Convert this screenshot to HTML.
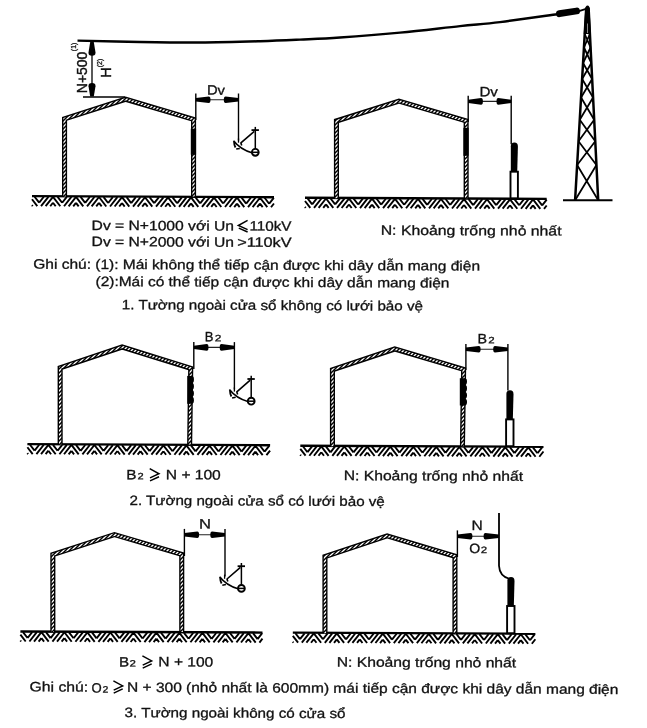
<!DOCTYPE html><html><head><meta charset="utf-8"><style>html,body{margin:0;padding:0;background:#fff;}svg{display:block;filter:blur(0.45px);}text{font-family:"Liberation Sans", sans-serif;fill:#111;stroke:#111;stroke-width:0.3px;}</style></head><body>
<svg width="647" height="728" viewBox="0 0 647 728">
<rect width="647" height="728" fill="#fff"/>
<defs><pattern id="wh" width="4" height="4" patternUnits="userSpaceOnUse"><rect width="4" height="4" fill="#fff"/><path d="M-1 1L1 -1M0 4L4 0M3 5L5 3" stroke="#000" stroke-width="1.45"/></pattern></defs>
<g transform="rotate(0.26 135.0 196.60)">
<rect x="32.0" y="195.40" width="242.0" height="2.4" fill="#000"/>
<path d="M32.00 205.66L32.73 206.60M32.00 199.76L37.33 206.60M34.60 197.20L39.20 203.10M43.80 197.20L39.20 203.10M48.40 197.20L41.07 206.60M53.00 197.20L45.67 206.60M53.00 203.10L50.27 206.60M53.00 203.10L55.73 206.60M53.00 197.20L60.33 206.60M57.60 197.20L62.20 203.10M66.80 197.20L62.20 203.10M71.40 197.20L64.07 206.60M76.00 197.20L68.67 206.60M76.00 203.10L73.27 206.60M76.00 203.10L78.73 206.60M76.00 197.20L83.33 206.60M80.60 197.20L85.20 203.10M89.80 197.20L85.20 203.10M94.40 197.20L87.07 206.60M99.00 197.20L91.67 206.60M99.00 203.10L96.27 206.60M99.00 203.10L101.73 206.60M99.00 197.20L106.33 206.60M103.60 197.20L108.20 203.10M112.80 197.20L108.20 203.10M117.40 197.20L110.07 206.60M122.00 197.20L114.67 206.60M122.00 203.10L119.27 206.60M122.00 203.10L124.73 206.60M122.00 197.20L129.33 206.60M126.60 197.20L131.20 203.10M135.80 197.20L131.20 203.10M140.40 197.20L133.07 206.60M145.00 197.20L137.67 206.60M145.00 203.10L142.27 206.60M145.00 203.10L147.73 206.60M145.00 197.20L152.33 206.60M149.60 197.20L154.20 203.10M158.80 197.20L154.20 203.10M163.40 197.20L156.07 206.60M168.00 197.20L160.67 206.60M168.00 203.10L165.27 206.60M168.00 203.10L170.73 206.60M168.00 197.20L175.33 206.60M172.60 197.20L177.20 203.10M181.80 197.20L177.20 203.10M186.40 197.20L179.07 206.60M191.00 197.20L183.67 206.60M191.00 203.10L188.27 206.60M191.00 203.10L193.73 206.60M191.00 197.20L198.33 206.60M195.60 197.20L200.20 203.10M204.80 197.20L200.20 203.10M209.40 197.20L202.07 206.60M214.00 197.20L206.67 206.60M214.00 203.10L211.27 206.60M214.00 203.10L216.73 206.60M214.00 197.20L221.33 206.60M218.60 197.20L223.20 203.10M227.80 197.20L223.20 203.10M232.40 197.20L225.07 206.60M237.00 197.20L229.67 206.60M237.00 203.10L234.27 206.60M237.00 203.10L239.73 206.60M237.00 197.20L244.33 206.60M241.60 197.20L246.20 203.10M250.80 197.20L246.20 203.10M255.40 197.20L248.07 206.60M260.00 197.20L252.67 206.60M260.00 203.10L257.27 206.60M260.00 203.10L262.73 206.60M260.00 197.20L267.33 206.60M264.60 197.20L269.20 203.10M273.80 197.20L269.20 203.10M274.00 202.84L271.07 206.60" fill="none" stroke="#000" stroke-width="1.9" stroke-linecap="butt"/>
</g>
<g transform="rotate(0.26 415.0 198.30)">
<rect x="305.0" y="197.10" width="241.7" height="2.4" fill="#000"/>
<path d="M305.00 207.36L305.73 208.30M305.00 201.46L310.33 208.30M307.60 198.90L312.20 204.80M316.80 198.90L312.20 204.80M321.40 198.90L314.07 208.30M326.00 198.90L318.67 208.30M326.00 204.80L323.27 208.30M326.00 204.80L328.73 208.30M326.00 198.90L333.33 208.30M330.60 198.90L335.20 204.80M339.80 198.90L335.20 204.80M344.40 198.90L337.07 208.30M349.00 198.90L341.67 208.30M349.00 204.80L346.27 208.30M349.00 204.80L351.73 208.30M349.00 198.90L356.33 208.30M353.60 198.90L358.20 204.80M362.80 198.90L358.20 204.80M367.40 198.90L360.07 208.30M372.00 198.90L364.67 208.30M372.00 204.80L369.27 208.30M372.00 204.80L374.73 208.30M372.00 198.90L379.33 208.30M376.60 198.90L381.20 204.80M385.80 198.90L381.20 204.80M390.40 198.90L383.07 208.30M395.00 198.90L387.67 208.30M395.00 204.80L392.27 208.30M395.00 204.80L397.73 208.30M395.00 198.90L402.33 208.30M399.60 198.90L404.20 204.80M408.80 198.90L404.20 204.80M413.40 198.90L406.07 208.30M418.00 198.90L410.67 208.30M418.00 204.80L415.27 208.30M418.00 204.80L420.73 208.30M418.00 198.90L425.33 208.30M422.60 198.90L427.20 204.80M431.80 198.90L427.20 204.80M436.40 198.90L429.07 208.30M441.00 198.90L433.67 208.30M441.00 204.80L438.27 208.30M441.00 204.80L443.73 208.30M441.00 198.90L448.33 208.30M445.60 198.90L450.20 204.80M454.80 198.90L450.20 204.80M459.40 198.90L452.07 208.30M464.00 198.90L456.67 208.30M464.00 204.80L461.27 208.30M464.00 204.80L466.73 208.30M464.00 198.90L471.33 208.30M468.60 198.90L473.20 204.80M477.80 198.90L473.20 204.80M482.40 198.90L475.07 208.30M487.00 198.90L479.67 208.30M487.00 204.80L484.27 208.30M487.00 204.80L489.73 208.30M487.00 198.90L494.33 208.30M491.60 198.90L496.20 204.80M500.80 198.90L496.20 204.80M505.40 198.90L498.07 208.30M510.00 198.90L502.67 208.30M510.00 204.80L507.27 208.30M510.00 204.80L512.73 208.30M510.00 198.90L517.33 208.30M514.60 198.90L519.20 204.80M523.80 198.90L519.20 204.80M528.40 198.90L521.07 208.30M533.00 198.90L525.67 208.30M533.00 204.80L530.27 208.30M533.00 204.80L535.73 208.30M533.00 198.90L540.33 208.30M537.60 198.90L542.20 204.80M546.70 199.03L542.20 204.80M546.70 204.93L544.07 208.30" fill="none" stroke="#000" stroke-width="1.9" stroke-linecap="butt"/>
</g>
<path d="M64.55 196.60L64.55 118.91L125.53 99.27L193.55 119.40L193.55 196.60" fill="none" stroke="#000" stroke-width="5.1" stroke-linejoin="miter"/>
<path d="M64.55 196.60L64.55 118.91L125.53 99.27L193.55 119.40L193.55 196.60" fill="none" stroke="url(#wh)" stroke-width="2.3" stroke-linejoin="miter"/>
<path d="M336.45 198.30L336.45 120.97L398.93 101.17L466.15 120.81L466.15 198.30" fill="none" stroke="#000" stroke-width="5.1" stroke-linejoin="miter"/>
<path d="M336.45 198.30L336.45 120.97L398.93 101.17L466.15 120.81L466.15 198.30" fill="none" stroke="url(#wh)" stroke-width="2.3" stroke-linejoin="miter"/>
<rect x="190.8" y="128.7" width="5.3" height="26" fill="#000"/>
<rect x="463.4" y="127.8" width="5.2" height="28" fill="#000"/>
<path d="M77.50 40.60C87.92 40.83 119.58 41.68 140.00 42.00C160.42 42.32 180.00 42.63 200.00 42.50C220.00 42.37 243.33 41.68 260.00 41.20C276.67 40.72 286.67 40.22 300.00 39.60C313.33 38.98 323.33 38.67 340.00 37.50C356.67 36.33 380.00 34.50 400.00 32.60C420.00 30.70 443.33 27.85 460.00 26.10C476.67 24.35 483.83 24.08 500.00 22.10C516.17 20.12 547.50 15.52 557.00 14.20" fill="none" stroke="#000" stroke-width="2.4"/>
<path d="M559.4 13.7L576.6 11.0" stroke="#000" stroke-width="6.8" stroke-linecap="round"/>
<path d="M579 11.2L586 8.9" stroke="#000" stroke-width="1.8"/>
<path d="M575.09 200.2L586.26 7.5M598.21 200.2L588.58 7.5" stroke="#000" stroke-width="2.5" fill="none"/>
<path d="M585.24 9.5Q585.44 5.6 587.6 5.6Q589.60 5.6 589.60 9.5L590.90 34L583.73 34Z" fill="#000"/>
<path d="M587.5 23.5L587.5 33" stroke="#999" stroke-width="0.9"/>
<path d="M575.09 200.20L596.45 165.00M598.21 200.20L577.13 165.00M577.13 165.00L595.27 141.30M596.45 165.00L578.50 141.30M578.50 141.30L594.19 119.70M595.27 141.30L579.76 119.70M579.76 119.70L593.08 97.50M594.19 119.70L581.05 97.50M581.05 97.50L592.15 79.00M593.08 97.50L582.12 79.00M582.12 79.00L591.35 63.00M592.15 79.00L583.05 63.00M583.05 63.00L590.58 47.50M591.35 63.00L583.95 47.50M583.95 47.50L589.90 34.00M590.58 47.50L584.73 34.00" stroke="#000" stroke-width="1.75" fill="none"/>
<line x1="563.00" y1="200.20" x2="612.50" y2="200.20" stroke="#000" stroke-width="1.9" />
<line x1="83.00" y1="97.00" x2="125.00" y2="97.00" stroke="#000" stroke-width="1.7" />
<line x1="92.00" y1="44.00" x2="92.00" y2="95.00" stroke="#000" stroke-width="1.3" />
<path d="M90.2 42.0L93.8 42.0L95.5 52.5Q95.7 55.8 92 55.8Q88.3 55.8 88.5 52.5Z" fill="#000"/>
<path d="M90.2 96.4L93.8 96.4L95.5 86.3Q95.7 83.0 92 83.0Q88.3 83.0 88.5 86.3Z" fill="#000"/>
<g transform="translate(86.8,93.2) rotate(-90)"><text x="0" y="0" font-size="14.2" textLength="41.5" lengthAdjust="spacingAndGlyphs" style="stroke-width:0.4px">N+500</text><text x="42.0" y="-11.3" font-size="7.0" style="stroke-width:0.3px">(1)</text></g>
<g transform="translate(110.9,77.8) rotate(-90)"><text x="0" y="0" font-size="14.4" style="stroke-width:0.4px">H</text><text x="10.6" y="-9.2" font-size="7.0" style="stroke-width:0.3px">(2)</text></g>
<line x1="195.80" y1="93.50" x2="195.80" y2="120.00" stroke="#000" stroke-width="1.4" />
<line x1="238.50" y1="93.50" x2="238.50" y2="140.50" stroke="#000" stroke-width="1.4" />
<line x1="195.80" y1="99.80" x2="238.50" y2="99.80" stroke="#222" stroke-width="1.1" />
<path d="M195.80 98.10L208.70 96.50Q210.50 96.50 210.50 99.80Q210.50 103.10 208.70 103.10L195.80 101.50Z" fill="#000"/>
<path d="M238.50 98.10L225.60 96.50Q223.80 96.50 223.80 99.80Q223.80 103.10 225.60 103.10L238.50 101.50Z" fill="#000"/>
<text x="206.91" y="94.60" font-size="13.5" textLength="18.02" lengthAdjust="spacingAndGlyphs" transform="rotate(0.26 208.00 94.60)">Dv</text>
<g transform="translate(238.50,140.50)" fill="none" stroke="#000">
<circle cx="16.8" cy="11.8" r="3.4" stroke-width="1.9"/>
<line x1="14" y1="11.8" x2="19.6" y2="11.8" stroke-width="1.5"/>
<line x1="16.8" y1="8.4" x2="16.8" y2="-13.6" stroke-width="1.5"/>
<line x1="13" y1="-10.4" x2="20.4" y2="-10.4" stroke-width="1.8"/>
<path d="M15.8 -9.2L2.4 2.4L3.2 5.0" stroke-width="1.6" stroke-linejoin="round"/>
<path d="M0 -2L0 2.2" stroke-width="1.3"/>
<path d="M-5.0 0.2Q2.0 9.0 13.4 12.2" stroke-width="1.6"/>
<path d="M-4.4 0.9Q-4.3 5.0 -3.0 7.0" stroke-width="1.9"/>
<path d="M-2.3 8.6L1.3 7.9" stroke-width="1.5"/>
</g>
<line x1="468.20" y1="95.70" x2="468.20" y2="122.00" stroke="#000" stroke-width="1.4" />
<line x1="511.20" y1="95.70" x2="511.20" y2="144.30" stroke="#000" stroke-width="1.4" />
<line x1="468.20" y1="101.40" x2="511.20" y2="101.40" stroke="#222" stroke-width="1.1" />
<path d="M468.20 99.70L481.10 98.10Q482.90 98.10 482.90 101.40Q482.90 104.70 481.10 104.70L468.20 103.10Z" fill="#000"/>
<path d="M511.20 99.70L498.30 98.10Q496.50 98.10 496.50 101.40Q496.50 104.70 498.30 104.70L511.20 103.10Z" fill="#000"/>
<text x="479.48" y="96.20" font-size="13.5" textLength="18.44" lengthAdjust="spacingAndGlyphs" transform="rotate(0.26 480.60 96.20)">Dv</text>
<path d="M510.80 172.70L510.80 146.20Q510.80 142.60 514.40 142.60Q518.00 142.80 517.90 146.60L517.20 172.70Z" fill="#000"/>
<rect x="510.50" y="171.70" width="7.40" height="26.60" fill="#fff" stroke="#000" stroke-width="1.9"/>
<text x="91.64" y="229.90" font-size="13.5" textLength="142.34" lengthAdjust="spacingAndGlyphs" transform="rotate(0.26 92.80 229.90)">Dv = N+1000 với Un</text>
<path d="M247.60 220.40L238.30 225.50L247.60 229.68M238.80 228.06L247.60 232.00" fill="none" stroke="#000" stroke-width="1.45"/>
<text x="249.46" y="230.60" font-size="13.5" textLength="42.00" lengthAdjust="spacingAndGlyphs" transform="rotate(0.26 250.30 230.60)">110kV</text>
<text x="91.64" y="246.10" font-size="13.5" textLength="142.34" lengthAdjust="spacingAndGlyphs" transform="rotate(0.26 92.80 246.10)">Dv = N+2000 với Un</text>
<text x="237.20" y="246.75" font-size="13.5" textLength="54.41" lengthAdjust="spacingAndGlyphs" transform="rotate(0.26 237.80 246.75)">&gt;110kV</text>
<text x="380.73" y="234.80" font-size="13.5" textLength="180.82" lengthAdjust="spacingAndGlyphs" transform="rotate(0.26 381.90 234.80)">N: Khoảng trống nhỏ nhất</text>
<text x="33.33" y="268.60" font-size="13.5" textLength="446.67" lengthAdjust="spacingAndGlyphs" transform="rotate(0.26 33.90 268.60)">Ghi chú: (1): Mái không thể tiếp cận được khi dây dẫn mang điện</text>
<text x="95.54" y="286.00" font-size="13.5" textLength="353.80" lengthAdjust="spacingAndGlyphs" transform="rotate(0.26 96.40 286.00)">(2):Mái có thể tiếp cận được khi dây dẫn mang điện</text>
<text x="121.86" y="309.30" font-size="13.5" textLength="301.09" lengthAdjust="spacingAndGlyphs" transform="rotate(0.26 122.70 309.30)">1. Tường ngoài cửa sổ không có lưới bảo vệ</text>
<g transform="rotate(0.26 135.0 444.60)">
<rect x="27.4" y="443.40" width="242.7" height="2.4" fill="#000"/>
<path d="M27.40 453.66L28.13 454.60M27.40 447.76L32.73 454.60M30.00 445.20L34.60 451.10M39.20 445.20L34.60 451.10M43.80 445.20L36.47 454.60M48.40 445.20L41.07 454.60M48.40 451.10L45.67 454.60M48.40 451.10L51.13 454.60M48.40 445.20L55.73 454.60M53.00 445.20L57.60 451.10M62.20 445.20L57.60 451.10M66.80 445.20L59.47 454.60M71.40 445.20L64.07 454.60M71.40 451.10L68.67 454.60M71.40 451.10L74.13 454.60M71.40 445.20L78.73 454.60M76.00 445.20L80.60 451.10M85.20 445.20L80.60 451.10M89.80 445.20L82.47 454.60M94.40 445.20L87.07 454.60M94.40 451.10L91.67 454.60M94.40 451.10L97.13 454.60M94.40 445.20L101.73 454.60M99.00 445.20L103.60 451.10M108.20 445.20L103.60 451.10M112.80 445.20L105.47 454.60M117.40 445.20L110.07 454.60M117.40 451.10L114.67 454.60M117.40 451.10L120.13 454.60M117.40 445.20L124.73 454.60M122.00 445.20L126.60 451.10M131.20 445.20L126.60 451.10M135.80 445.20L128.47 454.60M140.40 445.20L133.07 454.60M140.40 451.10L137.67 454.60M140.40 451.10L143.13 454.60M140.40 445.20L147.73 454.60M145.00 445.20L149.60 451.10M154.20 445.20L149.60 451.10M158.80 445.20L151.47 454.60M163.40 445.20L156.07 454.60M163.40 451.10L160.67 454.60M163.40 451.10L166.13 454.60M163.40 445.20L170.73 454.60M168.00 445.20L172.60 451.10M177.20 445.20L172.60 451.10M181.80 445.20L174.47 454.60M186.40 445.20L179.07 454.60M186.40 451.10L183.67 454.60M186.40 451.10L189.13 454.60M186.40 445.20L193.73 454.60M191.00 445.20L195.60 451.10M200.20 445.20L195.60 451.10M204.80 445.20L197.47 454.60M209.40 445.20L202.07 454.60M209.40 451.10L206.67 454.60M209.40 451.10L212.13 454.60M209.40 445.20L216.73 454.60M214.00 445.20L218.60 451.10M223.20 445.20L218.60 451.10M227.80 445.20L220.47 454.60M232.40 445.20L225.07 454.60M232.40 451.10L229.67 454.60M232.40 451.10L235.13 454.60M232.40 445.20L239.73 454.60M237.00 445.20L241.60 451.10M246.20 445.20L241.60 451.10M250.80 445.20L243.47 454.60M255.40 445.20L248.07 454.60M255.40 451.10L252.67 454.60M255.40 451.10L258.13 454.60M255.40 445.20L262.73 454.60M260.00 445.20L264.60 451.10M269.20 445.20L264.60 451.10M270.10 449.94L266.47 454.60" fill="none" stroke="#000" stroke-width="1.9" stroke-linecap="butt"/>
</g>
<g transform="rotate(0.26 415.0 446.20)">
<rect x="300.3" y="445.00" width="243.2" height="2.4" fill="#000"/>
<path d="M300.30 455.26L301.03 456.20M300.30 449.36L305.63 456.20M302.90 446.80L307.50 452.70M312.10 446.80L307.50 452.70M316.70 446.80L309.37 456.20M321.30 446.80L313.97 456.20M321.30 452.70L318.57 456.20M321.30 452.70L324.03 456.20M321.30 446.80L328.63 456.20M325.90 446.80L330.50 452.70M335.10 446.80L330.50 452.70M339.70 446.80L332.37 456.20M344.30 446.80L336.97 456.20M344.30 452.70L341.57 456.20M344.30 452.70L347.03 456.20M344.30 446.80L351.63 456.20M348.90 446.80L353.50 452.70M358.10 446.80L353.50 452.70M362.70 446.80L355.37 456.20M367.30 446.80L359.97 456.20M367.30 452.70L364.57 456.20M367.30 452.70L370.03 456.20M367.30 446.80L374.63 456.20M371.90 446.80L376.50 452.70M381.10 446.80L376.50 452.70M385.70 446.80L378.37 456.20M390.30 446.80L382.97 456.20M390.30 452.70L387.57 456.20M390.30 452.70L393.03 456.20M390.30 446.80L397.63 456.20M394.90 446.80L399.50 452.70M404.10 446.80L399.50 452.70M408.70 446.80L401.37 456.20M413.30 446.80L405.97 456.20M413.30 452.70L410.57 456.20M413.30 452.70L416.03 456.20M413.30 446.80L420.63 456.20M417.90 446.80L422.50 452.70M427.10 446.80L422.50 452.70M431.70 446.80L424.37 456.20M436.30 446.80L428.97 456.20M436.30 452.70L433.57 456.20M436.30 452.70L439.03 456.20M436.30 446.80L443.63 456.20M440.90 446.80L445.50 452.70M450.10 446.80L445.50 452.70M454.70 446.80L447.37 456.20M459.30 446.80L451.97 456.20M459.30 452.70L456.57 456.20M459.30 452.70L462.03 456.20M459.30 446.80L466.63 456.20M463.90 446.80L468.50 452.70M473.10 446.80L468.50 452.70M477.70 446.80L470.37 456.20M482.30 446.80L474.97 456.20M482.30 452.70L479.57 456.20M482.30 452.70L485.03 456.20M482.30 446.80L489.63 456.20M486.90 446.80L491.50 452.70M496.10 446.80L491.50 452.70M500.70 446.80L493.37 456.20M505.30 446.80L497.97 456.20M505.30 452.70L502.57 456.20M505.30 452.70L508.03 456.20M505.30 446.80L512.63 456.20M509.90 446.80L514.50 452.70M519.10 446.80L514.50 452.70M523.70 446.80L516.37 456.20M528.30 446.80L520.97 456.20M528.30 452.70L525.57 456.20M528.30 452.70L531.03 456.20M528.30 446.80L535.63 456.20M532.90 446.80L537.50 452.70M542.10 446.80L537.50 452.70M543.50 450.90L539.37 456.20" fill="none" stroke="#000" stroke-width="1.9" stroke-linecap="butt"/>
</g>
<path d="M60.15 444.60L60.15 367.74L122.13 346.98L190.72 368.27L189.65 444.56" fill="none" stroke="#000" stroke-width="5.1" stroke-linejoin="miter"/>
<path d="M60.15 444.60L60.15 367.74L122.13 346.98L190.72 368.27L189.65 444.56" fill="none" stroke="url(#wh)" stroke-width="2.3" stroke-linejoin="miter"/>
<path d="M332.45 446.20L332.45 369.74L394.75 348.97L463.62 369.30L462.45 446.16" fill="none" stroke="#000" stroke-width="5.1" stroke-linejoin="miter"/>
<path d="M332.45 446.20L332.45 369.74L394.75 348.97L463.62 369.30L462.45 446.16" fill="none" stroke="url(#wh)" stroke-width="2.3" stroke-linejoin="miter"/>
<rect x="187.20" y="375.90" width="5.30" height="27.90" fill="#000"/>
<ellipse cx="192.30" cy="379.39" rx="1.6" ry="3.19" fill="#000"/>
<ellipse cx="192.30" cy="386.36" rx="1.6" ry="3.19" fill="#000"/>
<ellipse cx="192.30" cy="393.34" rx="1.6" ry="3.19" fill="#000"/>
<ellipse cx="192.30" cy="400.31" rx="1.6" ry="3.19" fill="#000"/>
<rect x="459.80" y="378.20" width="5.80" height="27.30" fill="#000"/>
<ellipse cx="465.40" cy="381.61" rx="1.6" ry="3.11" fill="#000"/>
<ellipse cx="465.40" cy="388.44" rx="1.6" ry="3.11" fill="#000"/>
<ellipse cx="465.40" cy="395.26" rx="1.6" ry="3.11" fill="#000"/>
<ellipse cx="465.40" cy="402.09" rx="1.6" ry="3.11" fill="#000"/>
<line x1="193.80" y1="342.10" x2="193.80" y2="369.00" stroke="#000" stroke-width="1.4" />
<line x1="234.40" y1="342.10" x2="234.40" y2="389.40" stroke="#000" stroke-width="1.4" />
<line x1="193.80" y1="347.40" x2="234.40" y2="347.40" stroke="#222" stroke-width="1.1" />
<path d="M193.80 345.70L206.70 344.10Q208.50 344.10 208.50 347.40Q208.50 350.70 206.70 350.70L193.80 349.10Z" fill="#000"/>
<path d="M234.40 345.70L221.50 344.10Q219.70 344.10 219.70 347.40Q219.70 350.70 221.50 350.70L234.40 349.10Z" fill="#000"/>
<text x="204.64" y="341.20" font-size="13.5" textLength="8.66" lengthAdjust="spacingAndGlyphs" transform="rotate(0.26 205.60 341.20)">B</text>
<text x="214.88" y="341.20" font-size="9.2" textLength="6.61" lengthAdjust="spacingAndGlyphs" transform="rotate(0.26 215.20 341.20)">2</text>
<g transform="translate(234.40,389.40)" fill="none" stroke="#000">
<circle cx="16.8" cy="11.8" r="3.4" stroke-width="1.9"/>
<line x1="14" y1="11.8" x2="19.6" y2="11.8" stroke-width="1.5"/>
<line x1="16.8" y1="8.4" x2="16.8" y2="-13.6" stroke-width="1.5"/>
<line x1="13" y1="-10.4" x2="20.4" y2="-10.4" stroke-width="1.8"/>
<path d="M15.8 -9.2L2.4 2.4L3.2 5.0" stroke-width="1.6" stroke-linejoin="round"/>
<path d="M0 -2L0 2.2" stroke-width="1.3"/>
<path d="M-5.0 0.2Q2.0 9.0 13.4 12.2" stroke-width="1.6"/>
<path d="M-4.4 0.9Q-4.3 5.0 -3.0 7.0" stroke-width="1.9"/>
<path d="M-2.3 8.6L1.3 7.9" stroke-width="1.5"/>
</g>
<line x1="465.90" y1="344.00" x2="465.90" y2="370.00" stroke="#000" stroke-width="1.4" />
<line x1="507.90" y1="344.00" x2="507.90" y2="390.50" stroke="#000" stroke-width="1.4" />
<line x1="465.90" y1="349.20" x2="507.90" y2="349.20" stroke="#222" stroke-width="1.1" />
<path d="M465.90 347.50L478.80 345.90Q480.60 345.90 480.60 349.20Q480.60 352.50 478.80 352.50L465.90 350.90Z" fill="#000"/>
<path d="M507.90 347.50L495.00 345.90Q493.20 345.90 493.20 349.20Q493.20 352.50 495.00 352.50L507.90 350.90Z" fill="#000"/>
<text x="477.55" y="343.20" font-size="13.5" textLength="9.50" lengthAdjust="spacingAndGlyphs" transform="rotate(0.26 478.60 343.20)">B</text>
<text x="488.19" y="343.20" font-size="9.2" textLength="6.38" lengthAdjust="spacingAndGlyphs" transform="rotate(0.26 488.50 343.20)">2</text>
<path d="M506.40 420.40L506.40 393.80Q506.40 390.20 510.00 390.20Q513.60 390.40 513.50 394.20L512.80 420.40Z" fill="#000"/>
<rect x="506.10" y="419.40" width="7.40" height="26.80" fill="#fff" stroke="#000" stroke-width="1.9"/>
<text x="126.17" y="479.20" font-size="13.5" textLength="10.22" lengthAdjust="spacingAndGlyphs" transform="rotate(0.26 127.30 479.20)">B</text>
<text x="137.50" y="479.20" font-size="9.2" textLength="6.15" lengthAdjust="spacingAndGlyphs" transform="rotate(0.26 137.80 479.20)">2</text>
<path d="M149.70 468.60L159.00 473.77L150.00 477.95M150.00 480.90L159.00 476.72" fill="none" stroke="#000" stroke-width="1.45"/>
<text x="165.85" y="479.20" font-size="13.5" textLength="54.94" lengthAdjust="spacingAndGlyphs" transform="rotate(0.26 167.00 479.20)">N + 100</text>
<text x="343.74" y="480.10" font-size="13.5" textLength="179.31" lengthAdjust="spacingAndGlyphs" transform="rotate(0.26 344.90 480.10)">N: Khoảng trống nhỏ nhất</text>
<text x="129.54" y="504.90" font-size="13.5" textLength="255.25" lengthAdjust="spacingAndGlyphs" transform="rotate(0.26 130.10 504.90)">2. Tường ngoài cửa sổ có lưới bảo vệ</text>
<g transform="rotate(0.26 135.0 632.00)">
<rect x="20.4" y="630.80" width="242.1" height="2.4" fill="#000"/>
<path d="M20.40 641.06L21.13 642.00M20.40 635.16L25.73 642.00M23.00 632.60L27.60 638.50M32.20 632.60L27.60 638.50M36.80 632.60L29.47 642.00M41.40 632.60L34.07 642.00M41.40 638.50L38.67 642.00M41.40 638.50L44.13 642.00M41.40 632.60L48.73 642.00M46.00 632.60L50.60 638.50M55.20 632.60L50.60 638.50M59.80 632.60L52.47 642.00M64.40 632.60L57.07 642.00M64.40 638.50L61.67 642.00M64.40 638.50L67.13 642.00M64.40 632.60L71.73 642.00M69.00 632.60L73.60 638.50M78.20 632.60L73.60 638.50M82.80 632.60L75.47 642.00M87.40 632.60L80.07 642.00M87.40 638.50L84.67 642.00M87.40 638.50L90.13 642.00M87.40 632.60L94.73 642.00M92.00 632.60L96.60 638.50M101.20 632.60L96.60 638.50M105.80 632.60L98.47 642.00M110.40 632.60L103.07 642.00M110.40 638.50L107.67 642.00M110.40 638.50L113.13 642.00M110.40 632.60L117.73 642.00M115.00 632.60L119.60 638.50M124.20 632.60L119.60 638.50M128.80 632.60L121.47 642.00M133.40 632.60L126.07 642.00M133.40 638.50L130.67 642.00M133.40 638.50L136.13 642.00M133.40 632.60L140.73 642.00M138.00 632.60L142.60 638.50M147.20 632.60L142.60 638.50M151.80 632.60L144.47 642.00M156.40 632.60L149.07 642.00M156.40 638.50L153.67 642.00M156.40 638.50L159.13 642.00M156.40 632.60L163.73 642.00M161.00 632.60L165.60 638.50M170.20 632.60L165.60 638.50M174.80 632.60L167.47 642.00M179.40 632.60L172.07 642.00M179.40 638.50L176.67 642.00M179.40 638.50L182.13 642.00M179.40 632.60L186.73 642.00M184.00 632.60L188.60 638.50M193.20 632.60L188.60 638.50M197.80 632.60L190.47 642.00M202.40 632.60L195.07 642.00M202.40 638.50L199.67 642.00M202.40 638.50L205.13 642.00M202.40 632.60L209.73 642.00M207.00 632.60L211.60 638.50M216.20 632.60L211.60 638.50M220.80 632.60L213.47 642.00M225.40 632.60L218.07 642.00M225.40 638.50L222.67 642.00M225.40 638.50L228.13 642.00M225.40 632.60L232.73 642.00M230.00 632.60L234.60 638.50M239.20 632.60L234.60 638.50M243.80 632.60L236.47 642.00M248.40 632.60L241.07 642.00M248.40 638.50L245.67 642.00M248.40 638.50L251.13 642.00M248.40 632.60L255.73 642.00M253.00 632.60L257.60 638.50M262.20 632.60L257.60 638.50M262.50 638.11L259.47 642.00" fill="none" stroke="#000" stroke-width="1.9" stroke-linecap="butt"/>
</g>
<g transform="rotate(0.26 415.0 633.20)">
<rect x="292.8" y="632.00" width="242.6" height="2.4" fill="#000"/>
<path d="M292.80 642.26L293.53 643.20M292.80 636.36L298.13 643.20M295.40 633.80L300.00 639.70M304.60 633.80L300.00 639.70M309.20 633.80L301.87 643.20M313.80 633.80L306.47 643.20M313.80 639.70L311.07 643.20M313.80 639.70L316.53 643.20M313.80 633.80L321.13 643.20M318.40 633.80L323.00 639.70M327.60 633.80L323.00 639.70M332.20 633.80L324.87 643.20M336.80 633.80L329.47 643.20M336.80 639.70L334.07 643.20M336.80 639.70L339.53 643.20M336.80 633.80L344.13 643.20M341.40 633.80L346.00 639.70M350.60 633.80L346.00 639.70M355.20 633.80L347.87 643.20M359.80 633.80L352.47 643.20M359.80 639.70L357.07 643.20M359.80 639.70L362.53 643.20M359.80 633.80L367.13 643.20M364.40 633.80L369.00 639.70M373.60 633.80L369.00 639.70M378.20 633.80L370.87 643.20M382.80 633.80L375.47 643.20M382.80 639.70L380.07 643.20M382.80 639.70L385.53 643.20M382.80 633.80L390.13 643.20M387.40 633.80L392.00 639.70M396.60 633.80L392.00 639.70M401.20 633.80L393.87 643.20M405.80 633.80L398.47 643.20M405.80 639.70L403.07 643.20M405.80 639.70L408.53 643.20M405.80 633.80L413.13 643.20M410.40 633.80L415.00 639.70M419.60 633.80L415.00 639.70M424.20 633.80L416.87 643.20M428.80 633.80L421.47 643.20M428.80 639.70L426.07 643.20M428.80 639.70L431.53 643.20M428.80 633.80L436.13 643.20M433.40 633.80L438.00 639.70M442.60 633.80L438.00 639.70M447.20 633.80L439.87 643.20M451.80 633.80L444.47 643.20M451.80 639.70L449.07 643.20M451.80 639.70L454.53 643.20M451.80 633.80L459.13 643.20M456.40 633.80L461.00 639.70M465.60 633.80L461.00 639.70M470.20 633.80L462.87 643.20M474.80 633.80L467.47 643.20M474.80 639.70L472.07 643.20M474.80 639.70L477.53 643.20M474.80 633.80L482.13 643.20M479.40 633.80L484.00 639.70M488.60 633.80L484.00 639.70M493.20 633.80L485.87 643.20M497.80 633.80L490.47 643.20M497.80 639.70L495.07 643.20M497.80 639.70L500.53 643.20M497.80 633.80L505.13 643.20M502.40 633.80L507.00 639.70M511.60 633.80L507.00 639.70M516.20 633.80L508.87 643.20M520.80 633.80L513.47 643.20M520.80 639.70L518.07 643.20M520.80 639.70L523.53 643.20M520.80 633.80L528.13 643.20M525.40 633.80L530.00 639.70M534.60 633.80L530.00 639.70M535.40 638.67L531.87 643.20" fill="none" stroke="#000" stroke-width="1.9" stroke-linecap="butt"/>
</g>
<path d="M52.85 632.00L52.85 554.55L114.44 534.57L181.75 554.31L181.75 632.00" fill="none" stroke="#000" stroke-width="5.1" stroke-linejoin="miter"/>
<path d="M52.85 632.00L52.85 554.55L114.44 534.57L181.75 554.31L181.75 632.00" fill="none" stroke="url(#wh)" stroke-width="2.3" stroke-linejoin="miter"/>
<path d="M324.95 633.20L324.95 556.54L387.14 535.87L454.95 556.20L454.95 633.20" fill="none" stroke="#000" stroke-width="5.1" stroke-linejoin="miter"/>
<path d="M324.95 633.20L324.95 556.54L387.14 535.87L454.95 556.20L454.95 633.20" fill="none" stroke="url(#wh)" stroke-width="2.3" stroke-linejoin="miter"/>
<line x1="184.40" y1="528.90" x2="184.40" y2="556.00" stroke="#000" stroke-width="1.4" />
<line x1="225.00" y1="528.90" x2="225.00" y2="576.60" stroke="#000" stroke-width="1.4" />
<line x1="184.40" y1="534.80" x2="225.00" y2="534.80" stroke="#222" stroke-width="1.1" />
<path d="M184.40 533.10L197.30 531.50Q199.10 531.50 199.10 534.80Q199.10 538.10 197.30 538.10L184.40 536.50Z" fill="#000"/>
<path d="M225.00 533.10L212.10 531.50Q210.30 531.50 210.30 534.80Q210.30 538.10 212.10 538.10L225.00 536.50Z" fill="#000"/>
<text x="199.07" y="528.40" font-size="13.5" textLength="11.95" lengthAdjust="spacingAndGlyphs" transform="rotate(0.26 200.30 528.40)">N</text>
<g transform="translate(224.60,576.60)" fill="none" stroke="#000">
<circle cx="16.8" cy="11.8" r="3.4" stroke-width="1.9"/>
<line x1="14" y1="11.8" x2="19.6" y2="11.8" stroke-width="1.5"/>
<line x1="16.8" y1="8.4" x2="16.8" y2="-13.6" stroke-width="1.5"/>
<line x1="13" y1="-10.4" x2="20.4" y2="-10.4" stroke-width="1.8"/>
<path d="M15.8 -9.2L2.4 2.4L3.2 5.0" stroke-width="1.6" stroke-linejoin="round"/>
<path d="M0 -2L0 2.2" stroke-width="1.3"/>
<path d="M-5.0 0.2Q2.0 9.0 13.4 12.2" stroke-width="1.6"/>
<path d="M-4.4 0.9Q-4.3 5.0 -3.0 7.0" stroke-width="1.9"/>
<path d="M-2.3 8.6L1.3 7.9" stroke-width="1.5"/>
</g>
<line x1="457.40" y1="530.40" x2="457.40" y2="557.00" stroke="#000" stroke-width="1.4" />
<line x1="457.40" y1="536.30" x2="498.80" y2="536.30" stroke="#222" stroke-width="1.1" />
<path d="M457.40 534.60L470.60 533.00Q472.40 533.00 472.40 536.30Q472.40 539.60 470.60 539.60L457.40 538.00Z" fill="#000"/>
<path d="M498.80 534.60L485.40 533.00Q483.60 533.00 483.60 536.30Q483.60 539.60 485.40 539.60L498.80 538.00Z" fill="#000"/>
<path d="M499 512.9L499 565.8Q499.5 576.5 509.8 579" fill="none" stroke="#000" stroke-width="1.8"/>
<path d="M507.40 607.00L507.40 580.60Q507.40 577.00 511.00 577.00Q514.60 577.20 514.50 581.00L513.80 607.00Z" fill="#000"/>
<rect x="507.10" y="606.00" width="7.40" height="27.20" fill="#fff" stroke="#000" stroke-width="1.9"/>
<text x="471.55" y="529.90" font-size="13.5" textLength="11.20" lengthAdjust="spacingAndGlyphs" transform="rotate(0.26 472.70 529.90)">N</text>
<text x="469.38" y="553.00" font-size="13.5" textLength="10.96" lengthAdjust="spacingAndGlyphs" transform="rotate(0.26 469.90 553.00)">O</text>
<text x="480.69" y="553.10" font-size="9.2" textLength="6.38" lengthAdjust="spacingAndGlyphs" transform="rotate(0.26 481.00 553.10)">2</text>
<text x="118.98" y="666.40" font-size="13.5" textLength="10.10" lengthAdjust="spacingAndGlyphs" transform="rotate(0.26 120.10 666.40)">B</text>
<text x="129.49" y="666.40" font-size="9.2" textLength="6.38" lengthAdjust="spacingAndGlyphs" transform="rotate(0.26 129.80 666.40)">2</text>
<path d="M142.40 655.80L151.70 660.97L142.70 665.15M142.70 668.10L151.70 663.92" fill="none" stroke="#000" stroke-width="1.45"/>
<text x="158.35" y="666.30" font-size="13.5" textLength="54.94" lengthAdjust="spacingAndGlyphs" transform="rotate(0.26 159.50 666.30)">N + 100</text>
<text x="336.74" y="666.60" font-size="13.5" textLength="179.42" lengthAdjust="spacingAndGlyphs" transform="rotate(0.26 337.90 666.60)">N: Khoảng trống nhỏ nhất</text>
<text x="29.62" y="691.30" font-size="13.5" textLength="58.58" lengthAdjust="spacingAndGlyphs" transform="rotate(0.26 30.20 691.30)">Ghi chú:</text>
<text x="91.62" y="692.40" font-size="13.5" textLength="10.18" lengthAdjust="spacingAndGlyphs" transform="rotate(0.26 92.10 692.40)">O</text>
<text x="102.42" y="692.40" font-size="9.2" textLength="5.81" lengthAdjust="spacingAndGlyphs" transform="rotate(0.26 102.70 692.40)">2</text>
<path d="M113.40 680.80L122.70 685.97L113.70 690.15M113.70 693.10L122.70 688.92" fill="none" stroke="#000" stroke-width="1.45"/>
<text x="127.05" y="691.75" font-size="13.5" textLength="491.33" lengthAdjust="spacingAndGlyphs" transform="rotate(0.26 128.20 691.75)">N + 300 (nhỏ nhất là 600mm) mái tiếp cận được khi dây dẫn mang điện</text>
<text x="124.62" y="717.10" font-size="13.5" textLength="220.83" lengthAdjust="spacingAndGlyphs" transform="rotate(0.26 124.90 717.10)">3. Tường ngoài không có cửa sổ</text>
</svg></body></html>
